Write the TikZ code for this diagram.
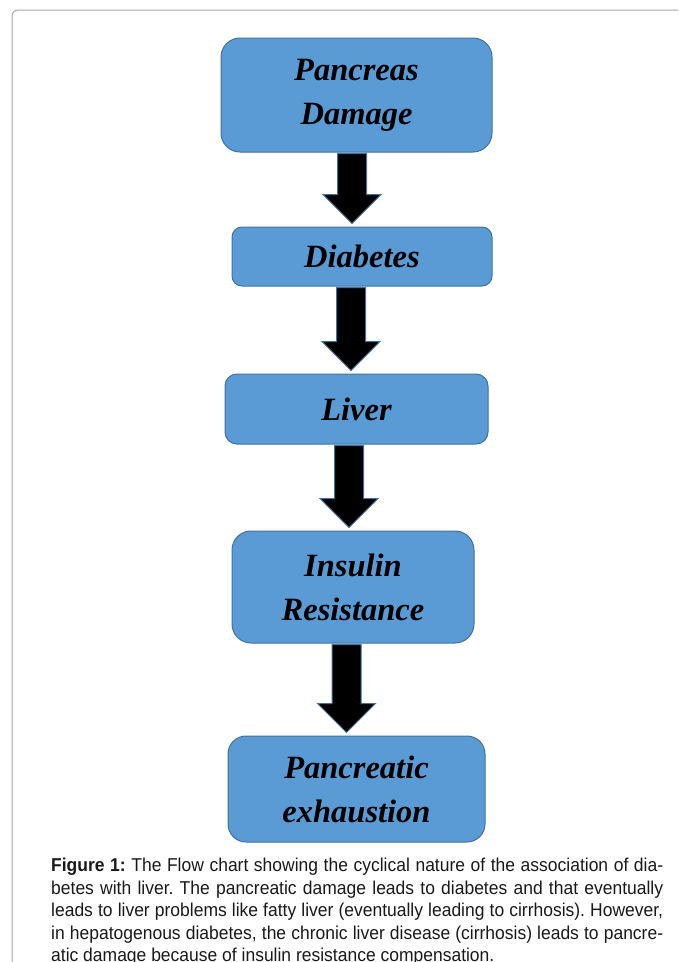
\documentclass[tikz,border=0pt]{standalone}
\usepackage{fontspec}
\setmainfont[FakeStretch=0.94]{Liberation Sans}
\newfontfamily\boxfont{Liberation Serif}
\usepackage{xcolor}
\usepackage{tikz}
\usetikzlibrary{positioning,calc}

\definecolor{boxfill}{HTML}{5B9BD5}
\definecolor{boxedge}{HTML}{41719C}
\definecolor{framegray}{HTML}{A6A6A6}

% block arrow: from node, to node, x offset from the upper node
\newcommand{\shaftw}{14.5pt}
\newcommand{\headw}{29pt}
\newcommand{\headl}{29pt}
\newcommand{\blockarrow}[3]{%
  \coordinate (arrtop) at ([xshift=#3,yshift=-1pt]#1.south);
  \coordinate (arrtip) at (#2.north -| arrtop);
  \draw[fatarrow] ([xshift=-\shaftw]arrtop) -- ([xshift=-\shaftw,yshift=\headl+3pt]arrtip)
    -- ([xshift=-\headw,yshift=\headl+3pt]arrtip) -- ([yshift=3pt]arrtip)
    -- ([xshift=\headw,yshift=\headl+3pt]arrtip) -- ([xshift=\shaftw,yshift=\headl+3pt]arrtip)
    -- ([xshift=\shaftw]arrtop) -- cycle;}

\begin{document}
\frenchspacing
\begin{tikzpicture}[
    x=1pt, y=1pt,
    flowbox/.style={rectangle, draw=boxedge, fill=boxfill, line width=1pt, inner sep=0pt,
      align=center, font=\boxfont\bfseries\itshape\fontsize{32.5}{44}\selectfont},
    fatarrow/.style={fill=black, draw=boxedge, line width=1pt, line join=miter}
]
\useasboundingbox (0,0) rectangle (678,-962);
\draw[framegray, line width=1pt, rounded corners=6pt] (12,-962) -- (12,-10) -- (678,-10);

\node[flowbox, minimum width=271pt, minimum height=114pt, rounded corners=19pt] (pancreas) at (356.5,-95) {Pancreas\\Damage};
\node[flowbox, minimum width=260pt, minimum height=59pt, rounded corners=10pt, below=74pt of pancreas, xshift=5.5pt] (diabetes) {Diabetes};
\node[flowbox, minimum width=263pt, minimum height=70pt, rounded corners=12pt, below=87pt of diabetes, xshift=-5.5pt] (liver) {Liver};
\node[flowbox, minimum width=242pt, minimum height=112pt, rounded corners=19pt, below=86pt of liver, xshift=-3.5pt] (insulin) {Insulin\\Resistance};
\node[flowbox, minimum width=257pt, minimum height=106pt, rounded corners=18pt, below=92pt of insulin, xshift=3.5pt] (exhaust) {Pancreatic\\exhaustion};

\blockarrow{pancreas}{diabetes}{-4.5pt}
\blockarrow{diabetes}{liver}{-11pt}
\blockarrow{liver}{insulin}{-7.5pt}
\blockarrow{insulin}{exhaust}{-6.5pt}

\node[anchor=north west, text width=612pt, align=justify, inner sep=0pt,
  font=\fontsize{18.6}{22.5}\selectfont, text=black!90] (caption) at (51,-858)
  {\textbf{Figure 1:} The Flow chart showing the cyclical nature of the association of dia-\linebreak
   betes with liver. The pancreatic damage leads to diabetes and that eventually\linebreak
   leads to liver problems like fatty liver (eventually leading to cirrhosis). However,\linebreak
   in hepatogenous diabetes, the chronic liver disease (cirrhosis) leads to pancre-\linebreak
   atic damage because of insulin resistance compensation.};
\end{tikzpicture}
\end{document}
